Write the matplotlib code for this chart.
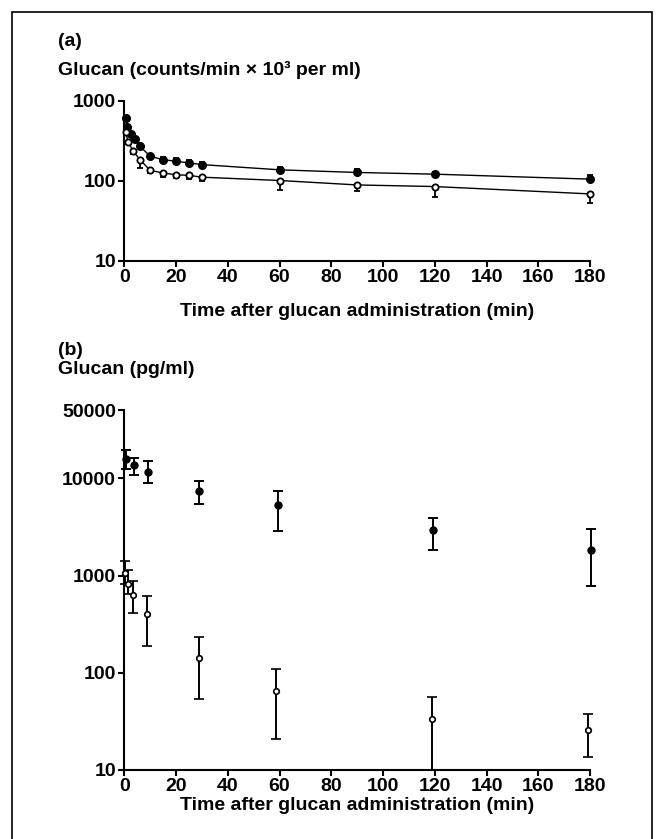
import matplotlib
matplotlib.use("Agg")
import matplotlib.pyplot as plt
from matplotlib.patches import Rectangle
from matplotlib.ticker import FixedLocator, FixedFormatter, NullLocator

plt.rcParams['font.family'] = ['Liberation Sans', 'DejaVu Sans']
plt.rcParams['font.weight'] = 'bold'

# ----------------- Data: panel (a) -----------------
ta_filled = [0.5, 1, 2.5, 4, 6, 10, 15, 20, 25, 30, 60, 90, 120, 180]
va_filled = [596, 467, 385, 326, 269, 201, 182, 174, 166, 158, 136, 126, 120, 104]
ea_filled_up = [15, 15, 12, 10, 10, 12, 12, 15, 12, 14, 12, 14, 8, 12]

ta_open = [0.5, 1.5, 3.5, 6, 10, 15, 20, 25, 30, 60, 90, 120, 180]
va_open = [404, 302, 232, 183, 134, 124, 118, 116, 110, 100, 88, 84, 68]
ea_open_dn = [20, 15, 15, 40, 10, 12, 12, 12, 12, 24, 15, 21, 16]

# ----------------- Data: panel (b) -----------------
tb_filled = [0.7, 3.9, 9, 29, 59.5, 119.5, 180.5]
vb_filled = [15960, 13680, 11640, 7340, 5350, 2930, 1820]
lo_filled = [12600, 10770, 8900, 5510, 2870, 1820, 790]
hi_filled = [19500, 16200, 15240, 9380, 7400, 3960, 3000]

tb_open = [0.3, 1.6, 3.5, 8.6, 28.7, 58.6, 118.8, 179.4]
vb_open = [1070, 824, 628, 405, 142, 65, 33.5, 25.6]
lo_open = [820, 640, 410, 189, 54, 20.6, 10, 13.6]
hi_open = [1430, 1140, 890, 624, 233, 110, 56.5, 37.6]

xticks = [0, 20, 40, 60, 80, 100, 120, 140, 160, 180]
yticks_a = [10, 100, 1000]
yticks_b = [10, 100, 1000, 10000, 50000]

W, H = 662, 839
fs = 14
fig = plt.figure(figsize=(W / 100, H / 100), dpi=100)

def px(x0, y0, x1, y1):
    # pixel box (top-left origin) -> figure fraction rect
    return [x0 / W, 1 - y1 / H, (x1 - x0) / W, (y1 - y0) / H]

def style(ax, yticks):
    for s in ['top', 'right']:
        ax.spines[s].set_visible(False)
    for s in ['left', 'bottom']:
        ax.spines[s].set_linewidth(1.5)
    ax.set_yscale('log')
    ax.set_xlim(0, 180)
    ax.xaxis.set_major_locator(FixedLocator(xticks))
    ax.set_xticklabels([str(t) for t in xticks])
    ax.yaxis.set_major_locator(FixedLocator(yticks))
    ax.yaxis.set_major_formatter(FixedFormatter([str(t) for t in yticks]))
    ax.yaxis.set_minor_locator(NullLocator())
    ax.tick_params(direction='out', length=4, width=1.5, labelsize=fs, pad=2)
    for lab in ax.get_xticklabels() + ax.get_yticklabels():
        lab.set_fontweight('bold')

# ----------------- Panel (a) -----------------
ax1 = fig.add_axes(px(124.3, 100.5, 590, 260.5))
style(ax1, yticks_a)
ax1.set_ylim(10, 1000)
ax1.plot(ta_filled, va_filled, color='black', lw=1.0, zorder=2)
ax1.plot(ta_open, va_open, color='black', lw=1.0, zorder=2)
ax1.errorbar(ta_filled, va_filled, yerr=[[0] * len(ea_filled_up), ea_filled_up],
             fmt='o', ms=5.5, mfc='black', mec='black', ecolor='black',
             elinewidth=1.3, capsize=2.5, capthick=1.3, clip_on=False, zorder=3)
ax1.errorbar(ta_open, va_open, yerr=[ea_open_dn, [0] * len(ea_open_dn)],
             fmt='o', ms=4.5, mfc='white', mec='black', mew=1.3, ecolor='black',
             elinewidth=1.3, capsize=2.5, capthick=1.3, clip_on=False, zorder=3)

# ----------------- Panel (b) -----------------
ax2 = fig.add_axes(px(124.3, 410.5, 590, 770))
style(ax2, yticks_b)
ax2.set_ylim(10, 50000)
ax2.errorbar(tb_filled, vb_filled,
             yerr=[[v - l for v, l in zip(vb_filled, lo_filled)],
                   [h - v for v, h in zip(vb_filled, hi_filled)]],
             fmt='o', ms=5, mfc='black', mec='black', ecolor='black',
             elinewidth=1.4, capsize=3.5, capthick=1.4, clip_on=False, zorder=3)
ax2.errorbar(tb_open, vb_open,
             yerr=[[v - l for v, l in zip(vb_open, lo_open)],
                   [h - v for v, h in zip(vb_open, hi_open)]],
             fmt='o', ms=4, mfc='white', mec='black', mew=1.2, ecolor='black',
             elinewidth=1.4, capsize=3.5, capthick=1.4, clip_on=False, zorder=3)

# ----------------- Labels -----------------
fig.text(58 / W, 1 - 41 / H, '(a)', fontsize=fs, fontweight='bold', va='center')
fig.text(58 / W, 1 - 69.5 / H, 'Glucan (counts/min × 10³ per ml)', fontsize=fs,
         fontweight='bold', va='center')
fig.text(357 / W, 1 - 312 / H, 'Time after glucan administration (min)', fontsize=fs,
         fontweight='bold', ha='center', va='center')
fig.text(58 / W, 1 - 350.5 / H, '(b)', fontsize=fs, fontweight='bold', va='center')
fig.text(58 / W, 1 - 370 / H, 'Glucan (pg/ml)', fontsize=fs, fontweight='bold', va='center')
fig.text(357 / W, 1 - 806 / H, 'Time after glucan administration (min)', fontsize=fs,
         fontweight='bold', ha='center', va='center')

# outer frame
fig.patches.append(Rectangle((12 / W, -0.05), (652 - 12) / W, 1.05 - 12 / H,
                             transform=fig.transFigure, fill=False,
                             edgecolor='black', lw=1.2))

fig.savefig('out.png', dpi=100)
